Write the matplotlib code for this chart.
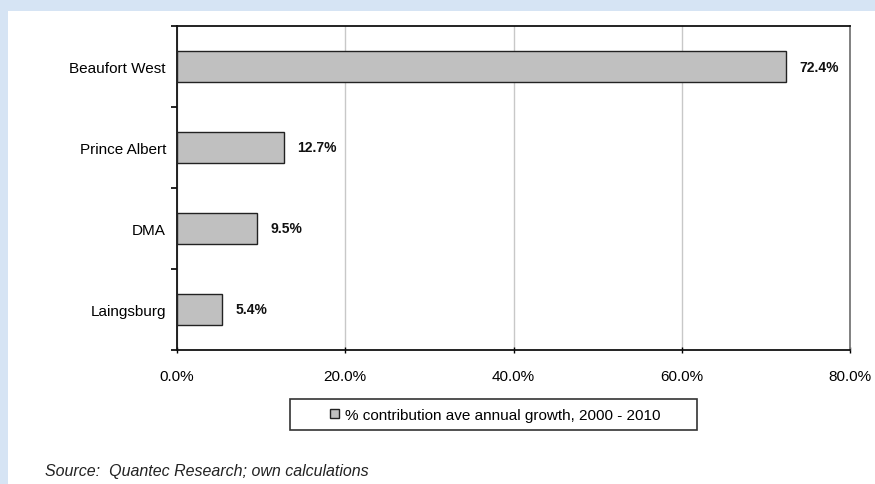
import matplotlib.pyplot as plt
from matplotlib.patches import Rectangle, Patch
from matplotlib.ticker import FuncFormatter, MultipleLocator

# data
regions = ['Beaufort West', 'Prince Albert', 'DMA', 'Laingsburg']
contribution = [72.4, 12.7, 9.5, 5.4]
x_ticks = [0, 20, 40, 60, 80]
legend_label = '% contribution ave annual growth, 2000 - 2010'
source_text = 'Source:  Quantec Research; own calculations'

plt.rcParams['font.family'] = ['Liberation Sans', 'DejaVu Sans']

fig = plt.figure(figsize=(8.75, 4.85), dpi=100)
fig.patch.set_facecolor('#d6e4f4')
# white page area
fig.add_artist(Rectangle((8 / 875, 0), 1, 1 - 12 / 485, transform=fig.transFigure,
                         facecolor='white', edgecolor='none', zorder=0))

ax = fig.add_axes([177 / 875, 1 - 351 / 485, 673 / 875, 324 / 485])
ax.set_facecolor('white')

ypos = list(range(len(regions)))[::-1]
ax.barh(ypos, contribution, height=0.39, color='#c0c0c0', edgecolor='#222222',
        linewidth=1.0, zorder=3)

for y, v in zip(ypos, contribution):
    ax.text(v + 1.6, y, f'{v:.1f}%', va='center', ha='left',
            fontsize=10, fontweight='bold', color='#111111', zorder=4)

ax.set_xlim(0, 80)
ax.set_ylim(-0.5, len(regions) - 0.5)
ax.set_xticks(x_ticks)
ax.xaxis.set_major_formatter(FuncFormatter(lambda v, p: f'{v:.1f}%'))
ax.set_yticks(ypos)
ax.set_yticklabels(regions)
ax.yaxis.set_minor_locator(MultipleLocator(1, offset=0.5))
ax.tick_params(axis='y', which='major', length=0, pad=8, labelsize=11)
ax.tick_params(axis='y', which='minor', length=4, width=1.2, direction='out', color='black')
ax.tick_params(axis='x', which='major', length=4, width=1, direction='inout', pad=12, labelsize=11)

ax.grid(axis='x', color='#c8c8c8', linewidth=1, zorder=0)
for s in ['left', 'bottom', 'top']:
    ax.spines[s].set_color('#111111')
    ax.spines[s].set_linewidth(1.3)
ax.spines['right'].set_color('#777777')
ax.spines['right'].set_linewidth(1.3)

# legend box
fig.add_artist(Rectangle((290 / 875, 1 - 431 / 485), 407 / 875, 31 / 485,
                         transform=fig.transFigure, facecolor='white',
                         edgecolor='#333333', linewidth=1.2, zorder=2))
handle = Patch(facecolor='#c0c0c0', edgecolor='#222222', linewidth=1)
fig.legend([handle], [legend_label], loc='center', bbox_to_anchor=(495 / 875, 1 - 416 / 485),
           frameon=False, fontsize=11, handlelength=0.6, handleheight=0.6,
           handletextpad=0.4)

fig.text(45 / 875, 1 - 472 / 485, source_text, fontsize=11.5, style='italic',
         va='center', ha='left', color='#222222')

fig.savefig('out.png', dpi=100)
